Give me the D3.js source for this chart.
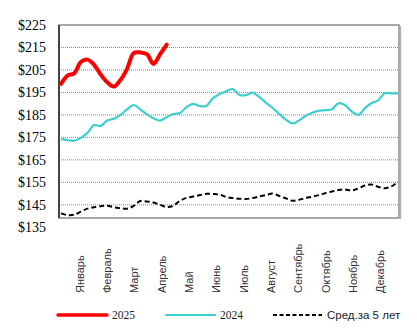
<!DOCTYPE html>
<html>
<head>
<meta charset="utf-8">
<script src="https://cdn.jsdelivr.net/npm/d3@7"></script>
<style>
  body { margin: 0; background: #fff; }
  svg { display: block; }
</style>
</head>
<body>
<div id="chart"></div>
<script>
// weekly prices, week index 0..51
const months = ["Январь", "Февраль", "Март", "Апрель", "Май", "Июнь",
                "Июль", "Август", "Сентябрь", "Октябрь", "Ноябрь", "Декабрь"];
const yTicks = [135, 145, 155, 165, 175, 185, 195, 205, 215, 225];

const prices2025 = [198.8, 202.5, 203.5, 208.5, 209.6, 207.3, 203, 199.5, 197.6,
                    200.5, 205.5, 212.5, 212.8, 212, 207.7, 212, 216.3];

const prices2024 = [174.2, 173.8, 173.5, 174.8, 177, 180.5, 180.1, 182.5, 183.3, 185,
                    187.5, 189.4, 187.5, 185.2, 183.5, 182.5, 184, 185.4, 185.8, 188.5,
                    189.9, 189, 189, 192.5, 194.3, 195.5, 196.5, 193.9, 193.8, 194.9,
                    193, 190.5, 188.2, 185.5, 183, 181.2, 182.5, 184.5, 186, 186.8,
                    187.1, 187.5, 190.2, 189.3, 186.5, 185, 188, 190.3, 191.5, 194.6,
                    194.6, 194.6];

const prices5yr = [141.2, 140.4, 140.6, 142, 143.3, 143.9, 144.4, 144.6, 143.9, 143.5,
                   143.3, 144.5, 146.7, 146.5, 146, 145, 144, 144.6, 146.8, 148.1,
                   148.7, 149.3, 149.9, 149.8, 149.5, 148.5, 148, 147.7, 147.6, 148,
                   148.7, 149.3, 150, 149, 147.9, 146.8, 147.2, 148, 148.6, 149.3,
                   150.2, 150.9, 151.6, 151.8, 151.4, 152.3, 153.6, 154, 153, 152.4,
                   153.2, 155.3];

const seriesNames = ["2025", "2024", "Сред.за 5 лет"];

const serif = "Liberation Serif, Times New Roman, serif";
const sans = "Liberation Sans, Arial, sans-serif";

const width = 417, height = 331;
const margin = { top: 25, left: 59 };
const innerWidth = 340, innerHeight = 193;

const svg = d3.select("#chart")
  .append("svg")
    .attr("width", width)
    .attr("height", height);

svg.append("rect").attr("width", width).attr("height", height).attr("fill", "#fff");

const g = svg.append("g")
  .attr("transform", `translate(${margin.left}, ${margin.top})`);

const x = d3.scaleLinear().domain([0, 51]).range([2, innerWidth - 1]);
// axis runs to $135 a little below the frame bottom
const y = d3.scaleLinear().domain([135, 225]).range([202.3, 0]);
const monthScale = d3.scaleBand().domain(months).range([7, innerWidth - 5]);

// dotted gridlines
g.selectAll(".grid")
  .data(yTicks.filter(t => t > 135 && t < 225))
  .join("line")
    .attr("class", "grid")
    .attr("x1", 0).attr("x2", innerWidth)
    .attr("y1", d => y(d)).attr("y2", d => y(d))
    .attr("stroke", "#8a8a8a")
    .attr("stroke-width", 1)
    .attr("stroke-dasharray", "1,1");

// frame
g.append("rect")
  .attr("width", innerWidth).attr("height", innerHeight)
  .attr("fill", "none")
  .attr("stroke", "#8c8c8c")
  .attr("stroke-width", 1.5);
g.append("line")
  .attr("x1", innerWidth + 1.5).attr("x2", innerWidth + 1.5)
  .attr("y1", 1).attr("y2", innerHeight + 1)
  .attr("stroke", "#b5b5b5").attr("stroke-width", 1.5);
g.append("line")
  .attr("x1", 0).attr("x2", 0).attr("y1", 0).attr("y2", innerHeight)
  .attr("stroke", "#444").attr("stroke-width", 2);

// y labels
g.selectAll(".ylab")
  .data(yTicks)
  .join("text")
    .attr("class", "ylab")
    .attr("x", -13)
    .attr("y", d => y(d) + 5)
    .attr("text-anchor", "end")
    .attr("font-family", serif)
    .attr("font-size", 14)
    .attr("fill", "#000")
    .text(d => "$" + d);

// month labels, rotated
g.selectAll(".xlab")
  .data(months)
  .join("text")
    .attr("class", "xlab")
    .attr("transform", d => `translate(${monthScale(d) + monthScale.bandwidth() / 2 + 4}, 268) rotate(-90)`)
    .attr("text-anchor", "start")
    .attr("font-family", sans)
    .attr("font-size", 11)
    .attr("fill", "#333")
    .text(d => d);

const line = d3.line()
  .x((d, i) => x(i))
  .y(d => y(d))
  .curve(d3.curveCatmullRom.alpha(0.5));

g.append("path")
  .attr("d", line(prices5yr))
  .attr("fill", "none")
  .attr("stroke", "#000")
  .attr("stroke-width", 2)
  .attr("stroke-dasharray", "5,3");

g.append("path")
  .attr("d", line(prices2024))
  .attr("fill", "none")
  .attr("stroke", "#3ccfcf")
  .attr("stroke-width", 2.2);

g.append("path")
  .attr("d", line(prices2025))
  .attr("fill", "none")
  .attr("stroke", "#ff0000")
  .attr("stroke-width", 4)
  .attr("stroke-linecap", "round");

// legend
const legendItems = [
  { name: seriesNames[0], color: "#ff0000", w: 3.5, dash: null, x: 58, font: serif },
  { name: seriesNames[1], color: "#3ccfcf", w: 2.2, dash: null, x: 166, font: serif },
  { name: seriesNames[2], color: "#000", w: 2, dash: "4,2.5", x: 273, font: sans }
];

const legend = svg.append("g").attr("transform", "translate(0, 315)");
legendItems.forEach(item => {
  legend.append("line")
    .attr("x1", item.x).attr("x2", item.x + 49)
    .attr("y1", 0).attr("y2", 0)
    .attr("stroke", item.color)
    .attr("stroke-width", item.w)
    .attr("stroke-linecap", item.dash ? "butt" : "round")
    .attr("stroke-dasharray", item.dash);
  legend.append("text")
    .attr("x", item.x + 54)
    .attr("y", 4)
    .attr("font-family", item.font)
    .attr("font-size", 11.5)
    .attr("fill", "#222")
    .text(item.name);
});
</script>
</body>
</html>
